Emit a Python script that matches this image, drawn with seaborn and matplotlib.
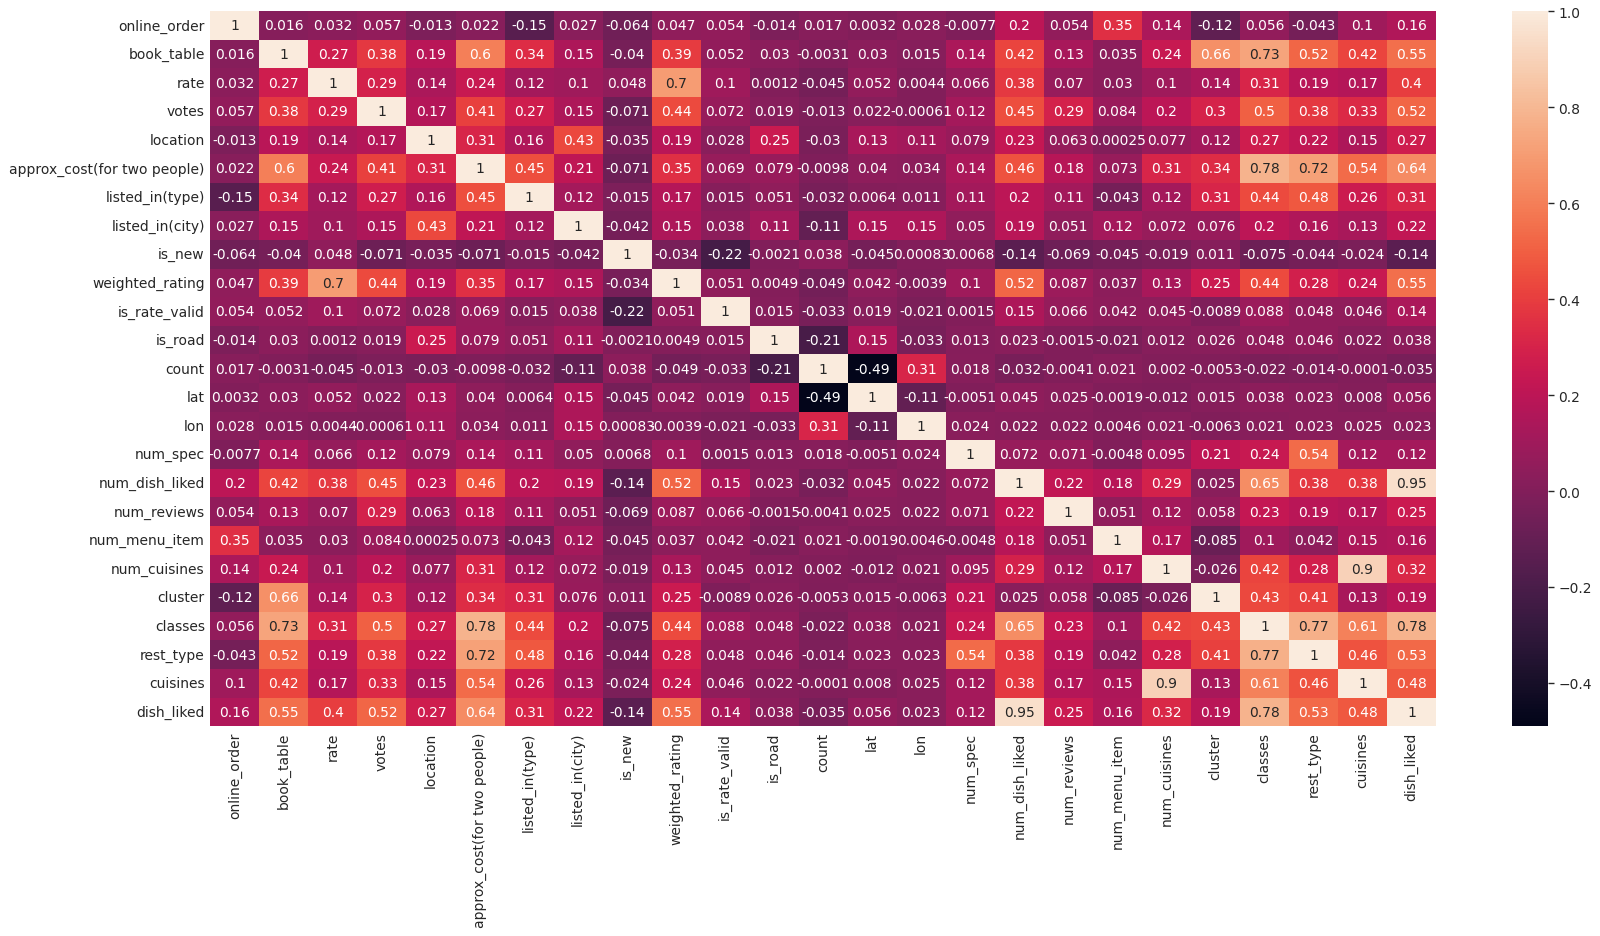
import numpy as np
import pandas as pd
import matplotlib
matplotlib.use("Agg")
import matplotlib.pyplot as plt
import seaborn as sns

labels = ["online_order", "book_table", "rate", "votes", "location",
          "approx_cost(for two people)", "listed_in(type)", "listed_in(city)",
          "is_new", "weighted_rating", "is_rate_valid", "is_road", "count",
          "lat", "lon", "num_spec", "num_dish_liked", "num_reviews",
          "num_menu_item", "num_cuisines", "cluster", "classes", "rest_type",
          "cuisines", "dish_liked"]

# lower triangle of the correlation matrix (row i, columns 0..i-1)
lower = [
    [],
    [0.016],
    [0.032, 0.27],
    [0.057, 0.38, 0.29],
    [-0.013, 0.19, 0.14, 0.17],
    [0.022, 0.6, 0.24, 0.41, 0.31],
    [-0.15, 0.34, 0.12, 0.27, 0.16, 0.45],
    [0.027, 0.15, 0.1, 0.15, 0.43, 0.21, 0.12],
    [-0.064, -0.04, 0.048, -0.071, -0.035, -0.071, -0.015, -0.042],
    [0.047, 0.39, 0.7, 0.44, 0.19, 0.35, 0.17, 0.15, -0.034],
    [0.054, 0.052, 0.1, 0.072, 0.028, 0.069, 0.015, 0.038, -0.22, 0.051],
    [-0.014, 0.03, 0.0012, 0.019, 0.25, 0.079, 0.051, 0.11, -0.0021, 0.0049, 0.015],
    [0.017, -0.0031, -0.045, -0.013, -0.03, -0.0098, -0.032, -0.11, 0.038, -0.049, -0.033, -0.21],
    [0.0032, 0.03, 0.052, 0.022, 0.13, 0.04, 0.0064, 0.15, -0.045, 0.042, 0.019, 0.15, -0.49],
    [0.028, 0.015, 0.0044, -0.00061, 0.11, 0.034, 0.011, 0.15, 0.00083, -0.0039, -0.021, -0.033, 0.31, -0.11],
    [-0.0077, 0.14, 0.066, 0.12, 0.079, 0.14, 0.11, 0.05, 0.0068, 0.1, 0.0015, 0.013, 0.018, -0.0051, 0.024],
    [0.2, 0.42, 0.38, 0.45, 0.23, 0.46, 0.2, 0.19, -0.14, 0.52, 0.15, 0.023, -0.032, 0.045, 0.022, 0.072],
    [0.054, 0.13, 0.07, 0.29, 0.063, 0.18, 0.11, 0.051, -0.069, 0.087, 0.066, -0.0015, -0.0041, 0.025, 0.022, 0.071, 0.22],
    [0.35, 0.035, 0.03, 0.084, 0.00025, 0.073, -0.043, 0.12, -0.045, 0.037, 0.042, -0.021, 0.021, -0.0019, 0.0046, -0.0048, 0.18, 0.051],
    [0.14, 0.24, 0.1, 0.2, 0.077, 0.31, 0.12, 0.072, -0.019, 0.13, 0.045, 0.012, 0.002, -0.012, 0.021, 0.095, 0.29, 0.12, 0.17],
    [-0.12, 0.66, 0.14, 0.3, 0.12, 0.34, 0.31, 0.076, 0.011, 0.25, -0.0089, 0.026, -0.0053, 0.015, -0.0063, 0.21, 0.025, 0.058, -0.085, -0.026],
    [0.056, 0.73, 0.31, 0.5, 0.27, 0.78, 0.44, 0.2, -0.075, 0.44, 0.088, 0.048, -0.022, 0.038, 0.021, 0.24, 0.65, 0.23, 0.1, 0.42, 0.43],
    [-0.043, 0.52, 0.19, 0.38, 0.22, 0.72, 0.48, 0.16, -0.044, 0.28, 0.048, 0.046, -0.014, 0.023, 0.023, 0.54, 0.38, 0.19, 0.042, 0.28, 0.41, 0.77],
    [0.1, 0.42, 0.17, 0.33, 0.15, 0.54, 0.26, 0.13, -0.024, 0.24, 0.046, 0.022, -0.0001, 0.008, 0.025, 0.12, 0.38, 0.17, 0.15, 0.9, 0.13, 0.61, 0.46],
    [0.16, 0.55, 0.4, 0.52, 0.27, 0.64, 0.31, 0.22, -0.14, 0.55, 0.14, 0.038, -0.035, 0.056, 0.023, 0.12, 0.95, 0.25, 0.16, 0.32, 0.19, 0.78, 0.53, 0.48],
]

n = len(labels)
mat = np.eye(n)
for i, row in enumerate(lower):
    for j, v in enumerate(row):
        mat[i, j] = v
        mat[j, i] = v
corr = pd.DataFrame(mat, index=labels, columns=labels)

sns.set_style("white")
plt.rcParams['font.family'] = ['DejaVu Sans']

fig = plt.figure(figsize=(16, 9.37), dpi=100)
ax = fig.add_axes([0.1315, 0.224, 0.766, 0.763])
cax = fig.add_axes([0.945, 0.224, 0.0225, 0.763])

sns.heatmap(corr, annot=True, ax=ax, cbar_ax=cax,
            annot_kws={"size": 10})
ax.set_xticks(np.arange(n) + 0.5)
ax.set_xticklabels(labels, rotation=90, fontsize=10)
ax.set_yticks(np.arange(n) + 0.5)
ax.set_yticklabels(labels, rotation=0, fontsize=10)
ax.tick_params(length=0, pad=4)
cax.tick_params(labelsize=10, length=4, width=1)

fig.savefig("out.png", dpi=100)
